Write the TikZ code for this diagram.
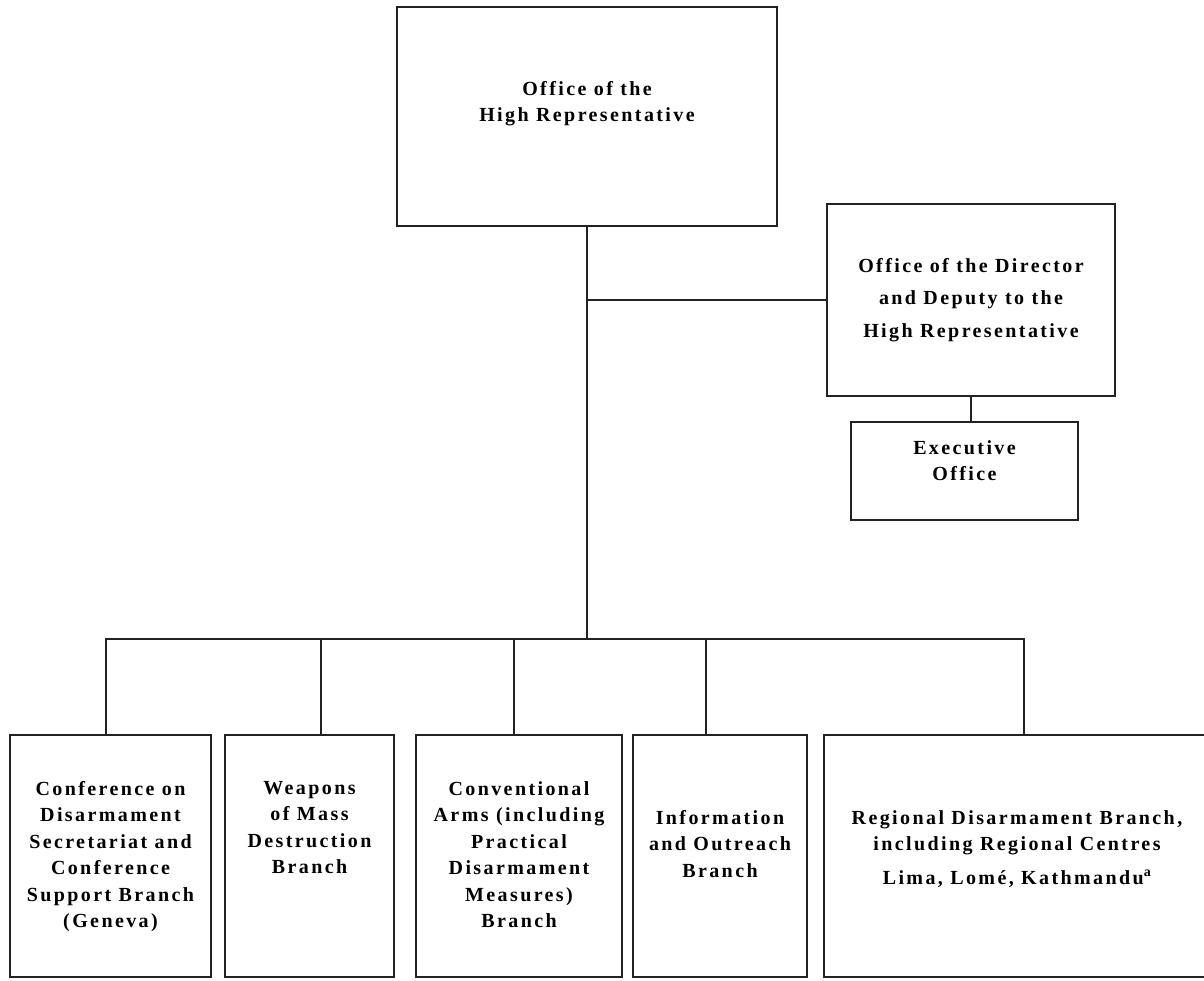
\documentclass[tikz,border=0pt]{standalone}
\usepackage{fontspec}
\setmainfont{Liberation Serif}[LetterSpace=12]
\usepackage{xcolor}
\usepackage{tikz}
\usetikzlibrary{positioning}
\definecolor{ink}{HTML}{222222}

\begin{document}
\begin{tikzpicture}[x = 1pt, y = -1pt, node distance = 14pt]
            \tikzstyle{unit} = [rectangle, draw=ink, line width=1.5pt, inner sep=0, outer sep=0];
            \tikzstyle{boxtext} = [inner sep=0, align=center, text=black, font=\fontsize{20}{26.5}\selectfont\bfseries];
            \tikzstyle{link} = [draw=ink, line width=1.5pt];
            \useasboundingbox (0,0) rectangle (1204,980);

            \node [unit, minimum width=380pt, minimum height=219pt] (HR) at (587,116.5) {};
            \node [boxtext, below=74pt of HR.north] (HRt) {Office of the\\High Representative};

            \node [unit, minimum width=288pt, minimum height=192pt] (DIR) at (971,300) {};
            \node [boxtext, font=\fontsize{20}{32.5}\selectfont\bfseries, below=54pt of DIR.north] (DIRt) {Office of the Director\\and Deputy to the\\High Representative};

            \node [unit, minimum width=227pt, minimum height=98pt, below=26pt of DIR, xshift=-6.5pt] (EX) {};
            \node [boxtext, below=18pt of EX.north] (EXt) {Executive\\Office};

            \node [unit, minimum width=201pt, minimum height=242pt] (CD) at (110.5,856) {};
            \node [unit, minimum width=169pt, minimum height=242pt, right=14pt of CD] (WMD) {};
            \node [unit, minimum width=206pt, minimum height=242pt, right=22pt of WMD] (CA) {};
            \node [unit, minimum width=174pt, minimum height=242pt, right=11pt of CA] (IO) {};
            \node [unit, minimum width=386pt, minimum height=242pt, right=17pt of IO] (RD) {};

            \node [boxtext, below=46pt of CD.north] (CDt) {Conference on\\Disarmament\\Secretariat and\\Conference\\Support Branch\\(Geneva)};
            \node [boxtext, below=46pt of WMD.north] (WMDt) {Weapons\\of Mass\\Destruction\\Branch};
            \node [boxtext, below=46pt of CA.north] (CAt) {Conventional\\Arms (including\\Practical\\Disarmament\\Measures)\\Branch};
            \node [boxtext, below=75pt of IO.north] (IOt) {Information\\and Outreach\\Branch};
            \node [boxtext, below=75pt of RD.north] (RDt) {Regional Disarmament Branch,\\including Regional Centres\\[7pt]Lima, Lomé, Kathmandu\textsuperscript{a}};

            \coordinate (bus) at (HR.south |- 0,639);
            \coordinate (hub) at (HR.south |- DIR.west);
            \draw [link] (HR) -- (bus);
            \draw [link] (hub) -- (DIR);
            \draw [link] (DIR.south) -- (DIR.south |- EX.north);
            \foreach \b/\dx in {CD/-4.5, WMD/11.5, CA/-5, IO/-14, RD/7}
                \draw [link] ([xshift=\dx pt]\b.north) |- (bus);
        \end{tikzpicture}
\end{document}
